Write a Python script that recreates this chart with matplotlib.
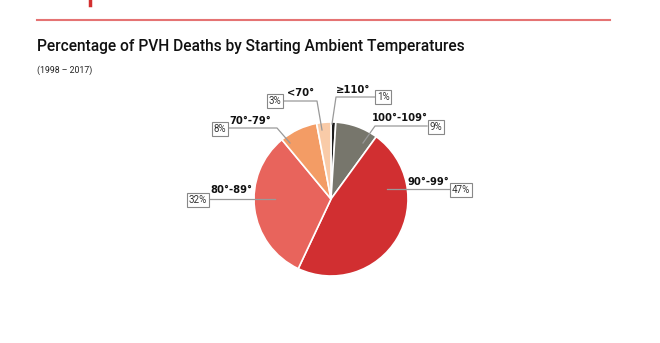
import matplotlib.pyplot as plt

# temperature bands, clockwise from the top
bands = ['≥110°', '100°-109°', '90°-99°', '80°-89°', '70°-79°', '<70°']
shares = [1, 9, 47, 32, 8, 3]
colors = ['#1c1c1c', '#77766c', '#d12f31', '#e8645c', '#f39c65', '#f9cba8']

# label layout in pixels: band text, box text, leader line points
band_xy = [(353, 90), (400, 118), (428, 182), (231, 190), (250, 121), (301, 93)]
box_xy = [(383, 97), (436, 127), (461, 190), (198, 200), (220, 129), (275, 101)]
leaders = [
    [(332, 124), (336, 97), (375, 97)],
    [(363, 143), (375, 126), (427, 126)],
    [(387, 189), (452, 189)],
    [(275, 199), (209, 199)],
    [(290, 143), (277, 128), (228, 128)],
    [(322, 130), (317, 101), (283, 101)],
]

fig = plt.figure(figsize=(6.6, 3.43), dpi=100)
ax = fig.add_axes([0, 0, 1, 1])

ax.pie(shares, colors=colors, startangle=270, counterclock=True,
       center=(331, 199), radius=77,
       wedgeprops=dict(edgecolor='white', linewidth=1.2))
ax.set_xlim(0, 660)
ax.set_ylim(343, 0)
ax.axis('off')

# header rule and title
ax.plot([37, 610], [20, 20], color='#e57373', lw=1.5)
ax.plot([90, 90], [0, 5], color='#d32f2f', lw=2.5)
ax.text(37, 47, 'Percentage of PVH Deaths by Starting Ambient Temperatures',
        family='Roboto', fontweight='medium', fontsize=11.2, color='#111111', va='center')
ax.text(37, 70, '(1998 – 2017)', family='Roboto', fontsize=6.3,
        color='#222222', va='center')

for name, share, bxy, pxy, pts in zip(bands, shares, band_xy, box_xy, leaders):
    xs, ys = zip(*pts)
    ax.plot(xs, ys, color='#999999', lw=0.9)
    ax.text(bxy[0], bxy[1], name, family='DejaVu Sans', fontstretch='condensed',
            fontweight='bold', fontsize=8, ha='center', va='center', color='#111111')
    ax.text(pxy[0], pxy[1], f'{share}%', family='Roboto', fontsize=7,
            ha='center', va='center', color='#333333',
            bbox=dict(boxstyle='square,pad=0.2', fc='white', ec='#888888', lw=0.8))

fig.savefig('out.png', dpi=100)
